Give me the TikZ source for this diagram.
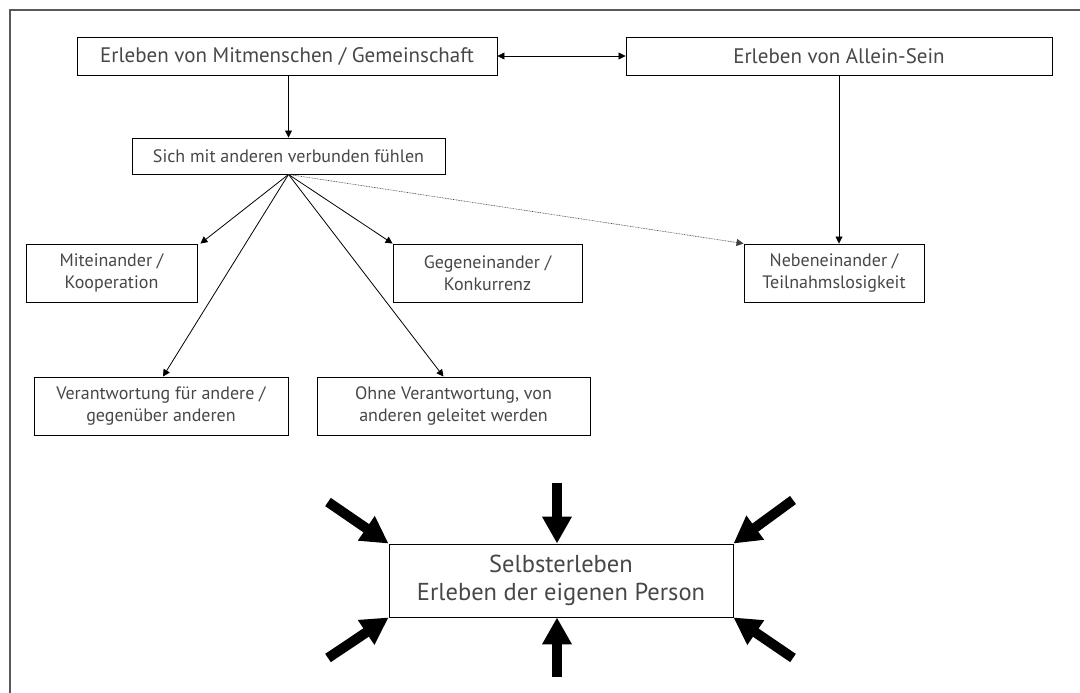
\documentclass[tikz,border=0pt]{standalone}
\usepackage{fontspec}
\setmainfont{PT Sans}
\usetikzlibrary{arrows.meta,calc}

\tikzset{
  box/.style={draw=black, line width=0.9pt, rectangle, inner sep=0pt, align=center,
              text=black!72, font=\fontsize{18}{22}\selectfont},
  bigbox/.style={box, font=\fontsize{21}{24}\selectfont},
  selfbox/.style={box, font=\fontsize{24.5}{28}\selectfont},
  conn/.style={line width=0.8pt, -{Triangle[length=7pt,width=7pt]}},
  dconn/.style={line width=0.8pt, {Triangle[length=7pt,width=7pt]}-{Triangle[length=7pt,width=7pt]}},
  dotconn/.style={line width=0.6pt, black!75, dash pattern=on 0.8pt off 0.8pt,
                  -{Triangle[length=7pt,width=7pt]}},
  pusharrow/.style={line width=10pt, black, -{Triangle[length=27pt,width=28pt]}},
  frameline/.style={line width=1.6pt, black!65}
}

\begin{document}
\begin{tikzpicture}[x=1pt,y=-1pt]
  \useasboundingbox (0,0) rectangle (1080,693);

  % open frame: top and left edges only
  \draw[frameline] (1080,10) -- (10,10) -- (10,693);

  % upper row
  \node[bigbox, minimum width=420pt, minimum height=38pt] (A) at (287,56)
    {Erleben von Mitmenschen / Gemeinschaft};
  \node[bigbox, minimum width=426pt, minimum height=38pt] (B) at (839,56)
    {Erleben von Allein-Sein};

  \node[box, minimum width=313pt, minimum height=36pt] (C) at (288.5,156)
    {Sich mit anderen verbunden fühlen};

  % middle row
  \node[box, minimum width=171pt, minimum height=58pt] (Mit) at (111.5,273)
    {Miteinander /\\Kooperation};
  \node[box, minimum width=189pt, minimum height=58pt] (Geg) at (487.5,273)
    {Gegeneinander /\\Konkurrenz};
  \node[box, minimum width=180pt, minimum height=58pt] (Neb) at (834,273)
    {Nebeneinander /\\Teilnahmslosigkeit};

  % lower row
  \node[box, minimum width=254pt, minimum height=58pt] (Ver) at (161,406)
    {Verantwortung für andere /\\gegenüber anderen};
  \node[box, minimum width=273pt, minimum height=58pt] (Ohne) at (453.5,406)
    {Ohne Verantwortung, von\\anderen geleitet werden};

  % central self box
  \node[selfbox, minimum width=344pt, minimum height=73pt] (Self) at (561,580.5)
    {Selbsterleben\\Erleben der eigenen Person};

  % connectors
  \draw[dconn] (A.east) -- (B.west);
  \draw[conn] (C.north |- A.south) -- (C.north);
  \draw[conn] (B.south) -- (B.south |- Neb.north);

  \draw[conn] (C.south) -- ($(Mit.north east)+(3,0)$);
  \draw[conn] (C.south) -- ($(Ver.north)+(2,0)$);
  \draw[conn] (C.south) -- (Geg.north west);
  \draw[conn] (C.south) -- ($(Ohne.north)+(-10,0)$);
  \draw[dotconn] (C.south) -- (Neb.north west);

  % heavy arrows pressing on the self box
  \coordinate (pT)  at (557,483);
  \coordinate (pB)  at (557,677);
  \coordinate (pUL) at (328,502);
  \coordinate (pUR) at (793,500);
  \coordinate (pLL) at (328,658);
  \coordinate (pLR) at (793,658);

  \draw[pusharrow] (pT) -- (pT |- Self.north);
  \draw[pusharrow] (pB) -- (pB |- Self.south);
  \draw[pusharrow] (pUL) -- (Self.north west);
  \draw[pusharrow] (pUR) -- (Self.north east);
  \draw[pusharrow] (pLL) -- (Self.south west);
  \draw[pusharrow] (pLR) -- (Self.south east);
\end{tikzpicture}
\end{document}
